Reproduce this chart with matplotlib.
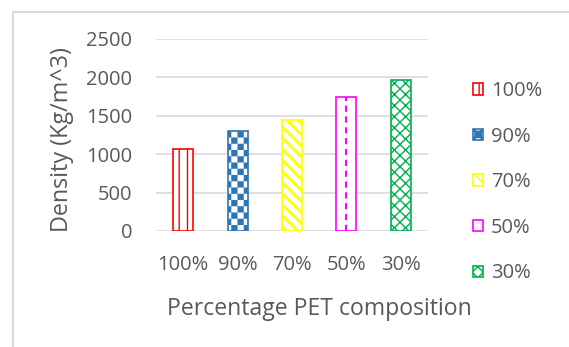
import warnings
import numpy as np
import matplotlib
matplotlib.use("Agg")
import matplotlib.pyplot as plt
from matplotlib import hatch as mhatch
from matplotlib.path import Path
from matplotlib.lines import Line2D

warnings.filterwarnings("ignore")

compositions = ["100%", "90%", "70%", "50%", "30%"]
density = [1070, 1305, 1440, 1750, 1960]
bar_colors = ["#FF0000", "#2E75B6", "#FFFF00", "#FF00FF", "#00B050"]
bar_hatches = ["||", "c", "\\\\\\", "", "xxx"]
hatch_widths = [1.0, 0.05, 2.0, 1.0, 1.0]


class CheckerHatch(mhatch.HatchPatternBase):
    # 'c' in a hatch string: filled squares on alternate cells
    filled = True

    def __init__(self, hatch, density):
        self.cells = 16 * hatch.count("c")
        n = self.cells
        self.squares = [(i, j) for i in range(n) for j in range(n) if (i + j) % 2 == 0]
        self.num_vertices = 5 * len(self.squares)

    def set_vertices_and_codes(self, vertices, codes):
        step = 1.0 / self.cells
        k = 0
        for i, j in self.squares:
            x, y = i * step, j * step
            vertices[k:k + 5] = [(x, y), (x + step, y), (x + step, y + step),
                                 (x, y + step), (x, y)]
            codes[k:k + 5] = [Path.MOVETO, Path.LINETO, Path.LINETO,
                              Path.LINETO, Path.CLOSEPOLY]
            k += 5


mhatch._hatch_types.append(CheckerHatch)

plt.rcParams['font.family'] = ['Open Sans', 'DejaVu Sans']
text_color = "#595959"
grid_color = "#D9D9D9"

fig = plt.figure(figsize=(5.69, 3.47), dpi=100)
ax = fig.add_axes([156 / 569, 1 - 231 / 347, 272 / 569, 192 / 347])

x = np.arange(len(compositions))
bars = ax.bar(x, density, width=0.37, color="white", edgecolor=bar_colors,
              linewidth=1.2, zorder=3)
for p, h, hw in zip(bars, bar_hatches, hatch_widths):
    p.set_hatch(h)
    p.set_hatch_linewidth(hw)

# dashed line down the middle of the 50% bar
ax.vlines(x[3], 0, density[3], colors=bar_colors[3], linestyles=(0, (3, 2.2)),
          linewidth=1.5, zorder=4)

ax.set_xlim(-0.5, len(compositions) - 0.5)
ax.set_ylim(0, 2500)
ax.set_yticks(np.arange(0, 2501, 500))
ax.set_xticks(x)
ax.set_xticklabels(compositions)
ax.grid(axis="y", color=grid_color, linewidth=1.2, zorder=0)
for s in ax.spines.values():
    s.set_visible(False)
ax.tick_params(length=0, labelsize=14.5, labelcolor=text_color)
ax.tick_params(axis="y", pad=17)
ax.tick_params(axis="x", pad=17)

ax.set_ylabel("Density (Kg/m^3)", fontsize=16.8, color=text_color, va="center")
ax.yaxis.set_label_coords(-0.346, 0.474)
ax.set_xlabel("Percentage PET composition", fontsize=16.6, color=text_color,
              va="center")
ax.xaxis.set_label_coords(0.6, -0.406)

fig.legend(bars, compositions, loc="upper left",
           bbox_to_anchor=(455 / 569, 1 - 63 / 347), frameon=False,
           fontsize=14.5, labelcolor=text_color, handlelength=0.5,
           handleheight=0.5, handletextpad=0.4, labelspacing=1.27)

# chart area outline
x0, y0 = 13 / 569, 1 - 12 / 347
fig.add_artist(Line2D([x0, x0], [0, y0], color=grid_color, linewidth=1.5))
fig.add_artist(Line2D([x0, 1], [y0, y0], color=grid_color, linewidth=1.5))

fig.savefig("out.png", dpi=100)
